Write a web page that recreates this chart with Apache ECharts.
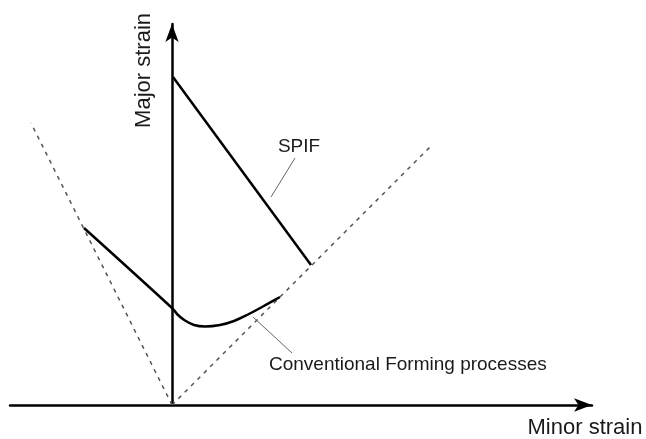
<!DOCTYPE html>
<html>
<head>
<meta charset="utf-8">
<script src="https://cdn.jsdelivr.net/npm/echarts@6/dist/echarts.min.js"></script>
<style>
  html, body { margin: 0; padding: 0; background: #fff; }
  #chart { width: 646px; height: 439px; }
</style>
</head>
<body>
<div id="chart"></div>
<script>
// schematic forming limit diagram, units: minor / major strain (arbitrary)
var minorRange = [-1.62, 4.2];
var majorRange = [0, 3.81];

// SPIF forming limit (straight line)
var spifMinor = [0.01, 1.39];
var spifMajor = [3.28, 1.40];

// conventional forming limit curve
var convMinor = [-0.88, 0, 0.06, 0.13, 0.22, 0.33, 0.48, 0.62, 0.75, 0.90, 1.08];
var convMajor = [1.77, 0.97, 0.90, 0.845, 0.80, 0.785, 0.80, 0.84, 0.90, 0.98, 1.08];

// uniaxial (left) and equibiaxial (right) reference lines
var uniMinor = [0, -1.41];
var uniMajor = [0, 2.82];
var biMinor = [0, 2.6];
var biMajor = [0, 2.6];

// leader lines for the annotations
var spifLeadMinor = [0.99, 1.23];
var spifLeadMajor = [2.08, 2.47];
var convLeadMinor = [0.81, 1.20];
var convLeadMajor = [0.88, 0.52];

var labels = ['SPIF', 'Conventional Forming processes'];

function pairs(xs, ys) {
  return xs.map(function (x, i) { return [x, ys[i]]; });
}

var chart = echarts.init(document.getElementById('chart'));
var font = 'Liberation Sans, Arial, sans-serif';

var option = {
  animation: false,
  backgroundColor: '#fff',
  grid: { left: 10, right: 54, top: 24, bottom: 34 },
  xAxis: {
    type: 'value',
    min: minorRange[0],
    max: minorRange[1],
    name: 'Minor strain',
    nameLocation: 'end',
    nameGap: -7,
    nameTextStyle: {
      fontFamily: font, fontSize: 22, color: '#1a1a1a',
      align: 'center', verticalAlign: 'top', padding: [12, 0, 0, 0]
    },
    axisLine: {
      onZero: true,
      symbol: ['none', 'arrow'],
      symbolSize: [10, 18],
      lineStyle: { color: '#000', width: 2.5 }
    },
    axisTick: { show: false },
    axisLabel: { show: false },
    splitLine: { show: false }
  },
  yAxis: {
    type: 'value',
    min: majorRange[0],
    max: majorRange[1],
    name: 'Major strain',
    nameLocation: 'end',
    nameRotate: 90,
    nameGap: 11,
    nameTextStyle: {
      fontFamily: font, fontSize: 22, color: '#1a1a1a',
      align: 'right', verticalAlign: 'bottom', padding: [0, 0, 17, 0]
    },
    axisLine: {
      onZero: true,
      symbol: ['none', 'arrow'],
      symbolSize: [10, 18],
      lineStyle: { color: '#000', width: 2.5 }
    },
    axisTick: { show: false },
    axisLabel: { show: false },
    splitLine: { show: false }
  },
  series: [
    {
      type: 'line', data: pairs(uniMinor, uniMajor), symbol: 'none',
      lineStyle: { color: '#555', width: 1.5, type: [4, 5] }
    },
    {
      type: 'line', data: pairs(biMinor, biMajor), symbol: 'none',
      lineStyle: { color: '#555', width: 1.5, type: [4, 5] }
    },
    {
      type: 'line', data: pairs(spifMinor, spifMajor), symbol: 'none',
      lineStyle: { color: '#000', width: 2.5 }
    },
    {
      type: 'line', data: pairs(convMinor, convMajor), symbol: 'none', smooth: 0.3,
      lineStyle: { color: '#000', width: 2.5 }
    },
    {
      type: 'line', symbol: 'circle', symbolSize: 0, showSymbol: true,
      lineStyle: { color: '#666', width: 1 },
      data: [
        pairs(spifLeadMinor, spifLeadMajor)[0],
        {
          value: pairs(spifLeadMinor, spifLeadMajor)[1],
          label: {
            show: true, formatter: labels[0], position: 'top', distance: 0, offset: [4, -2],
            fontFamily: font, fontSize: 19, color: '#1a1a1a'
          }
        }
      ]
    },
    {
      type: 'line', symbol: 'circle', symbolSize: 0, showSymbol: true,
      lineStyle: { color: '#666', width: 1 },
      data: [
        pairs(convLeadMinor, convLeadMajor)[0],
        {
          value: pairs(convLeadMinor, convLeadMajor)[1],
          label: {
            show: true, formatter: labels[1], position: 'right', distance: 0, offset: [-23, 12],
            fontFamily: font, fontSize: 19, color: '#1a1a1a'
          }
        }
      ]
    }
  ]
};

chart.setOption(option);
</script>
</body>
</html>
